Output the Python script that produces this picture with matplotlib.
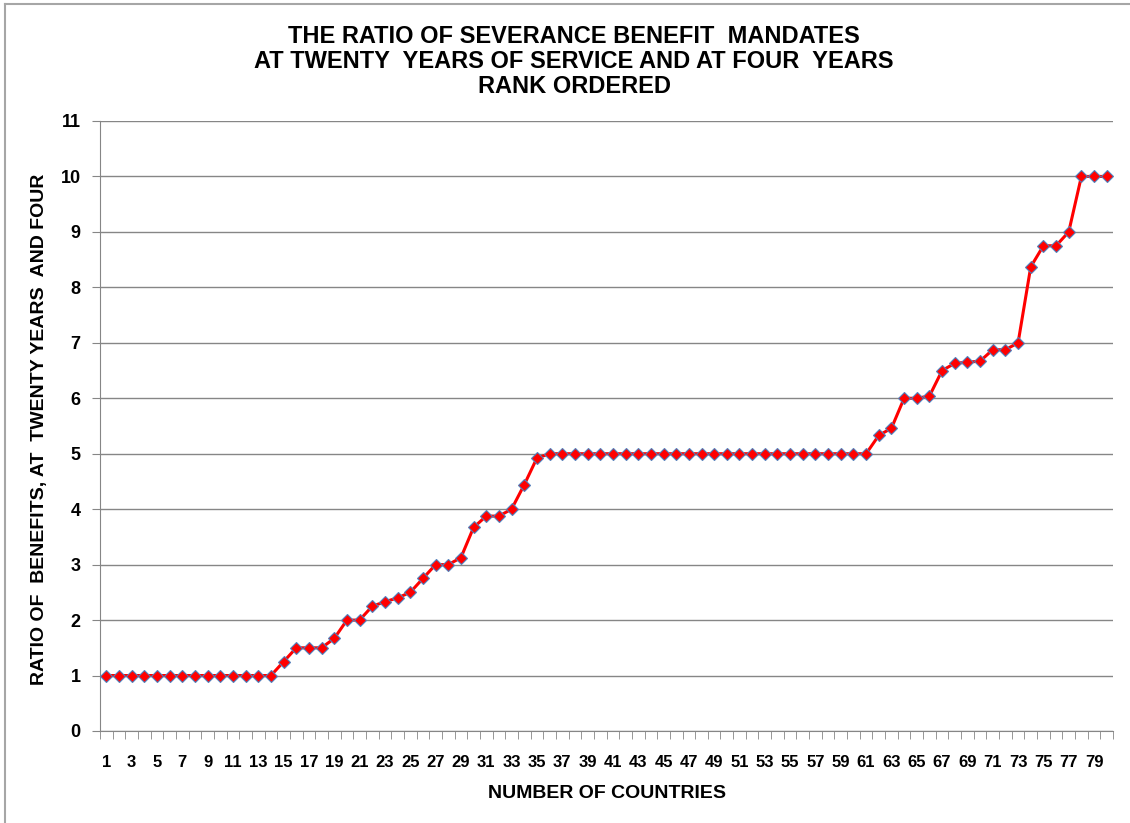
import matplotlib.pyplot as plt
from matplotlib.lines import Line2D

plt.rcParams['font.family'] = ['Liberation Sans', 'DejaVu Sans']
plt.rcParams['font.weight'] = 'bold'

countries = list(range(1, 81))
ratios = [1.0] * 14 + [
    1.25, 1.5, 1.5, 1.5, 1.67, 2.0, 2.0, 2.25, 2.33, 2.4,
    2.5, 2.75, 3.0, 3.0, 3.125, 3.67, 3.875, 3.875, 4.0, 4.44,
    4.92,
] + [5.0] * 26 + [
    5.33, 5.46, 6.0, 6.0, 6.04, 6.5, 6.63, 6.65, 6.67, 6.875,
    6.875, 7.0, 8.37, 8.75, 8.75, 9.0, 10.0, 10.0, 10.0,
]
tick_labels = [str(n) for n in range(1, 81, 2)]

fig = plt.figure(figsize=(11.3, 8.23), dpi=100)
ax = fig.add_axes([0.0885, 0.1118, 0.8965, 0.7412])

ax.plot(countries, ratios, color='red', linewidth=2.2, marker='D',
        markersize=6.5, markerfacecolor='red', markeredgecolor='#4f81bd',
        markeredgewidth=0.8, zorder=3)

ax.set_xlim(0.5, 80.5)
ax.set_ylim(0, 11)
ax.set_yticks(range(0, 12))
ax.set_xticks(range(1, 81, 2))
ax.set_xticklabels(tick_labels)
ax.set_xticks([i + 0.5 for i in range(0, 81)], minor=True)
ax.tick_params(axis='x', which='major', length=0, pad=17, labelsize=12)
ax.tick_params(axis='x', which='minor', length=6, color='#868686')
ax.tick_params(axis='y', length=6, color='#868686', pad=8, labelsize=13)

ax.grid(axis='y', color='#868686', linewidth=1)
ax.set_axisbelow(True)
for side in ['top', 'right']:
    ax.spines[side].set_visible(False)
for side in ['left', 'bottom']:
    ax.spines[side].set_color('#868686')

fig.text(607 / 1130, 1 - 794 / 823, 'NUMBER OF COUNTRIES', ha='center', va='center',
         fontsize=14, fontweight='bold')
fig.text(40 / 1130, 1 - 429 / 823, 'RATIO OF  BENEFITS, AT  TWENTY YEARS  AND FOUR',
         ha='center', va='center', rotation=90, fontsize=14, fontweight='bold')

fig.text(0.508, 0.970,
         'THE RATIO OF SEVERANCE BENEFIT  MANDATES\n'
         'AT TWENTY  YEARS OF SERVICE AND AT FOUR  YEARS\n'
         'RANK ORDERED',
         ha='center', va='top', fontsize=17, fontweight='bold', linespacing=1.13)

# chart area frame (only left and top edges visible in the original crop)
fig.add_artist(Line2D([0.0045, 0.0045], [0, 0.995], color='#a6a6a6', linewidth=1.5))
fig.add_artist(Line2D([0.0045, 1], [0.995, 0.995], color='#a6a6a6', linewidth=1.5))

fig.savefig('out.png', dpi=100)
